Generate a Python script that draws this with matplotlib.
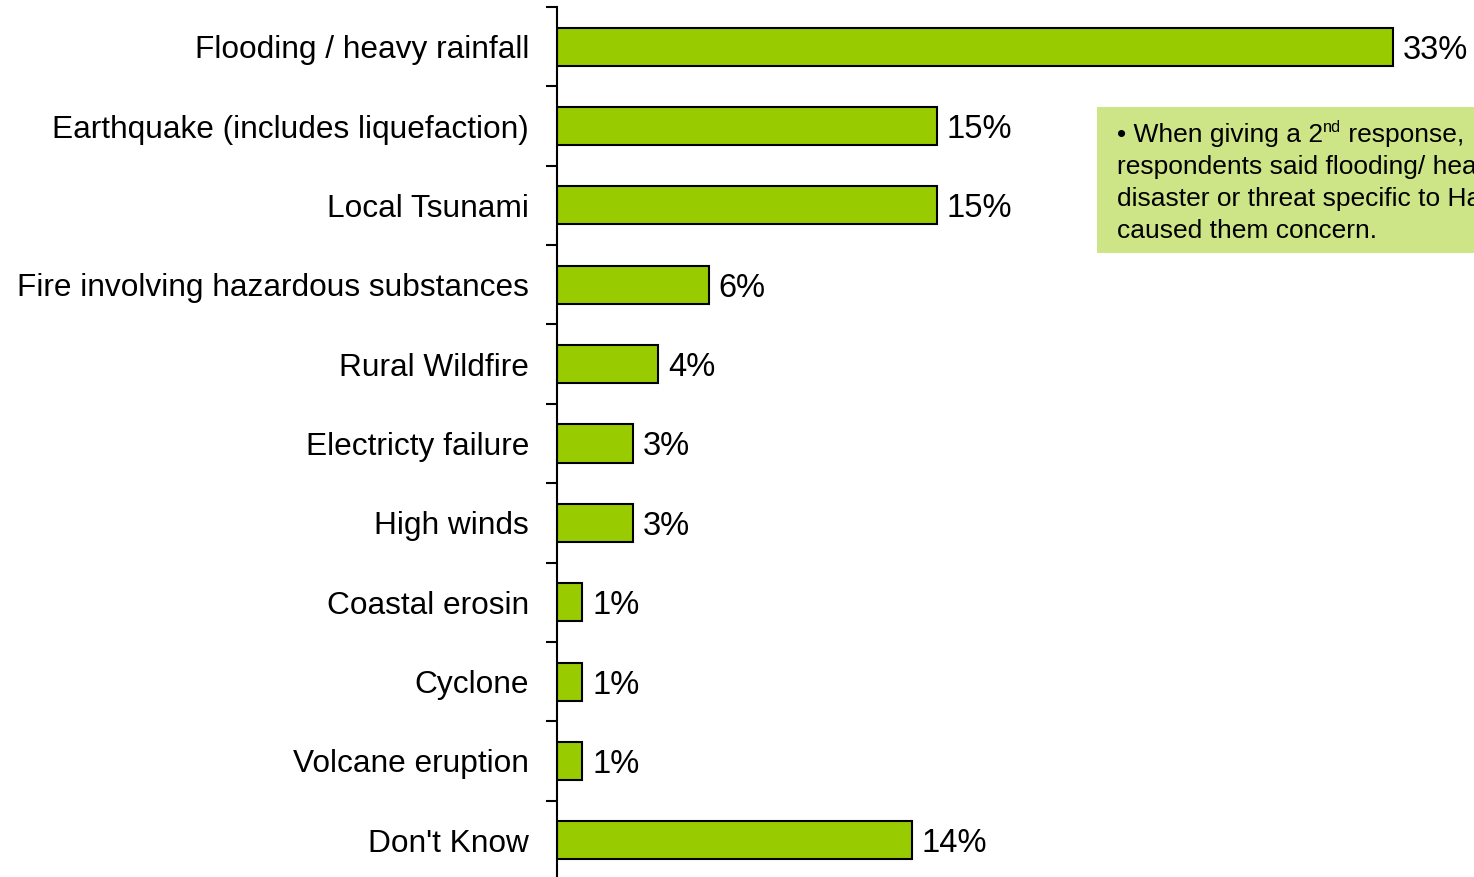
import matplotlib
matplotlib.use("Agg")
import matplotlib.pyplot as plt
from matplotlib.patches import Rectangle
import numpy as np

categories = ["Flooding / heavy rainfall", "Earthquake (includes liquefaction)", "Local Tsunami",
              "Fire involving hazardous substances", "Rural Wildfire", "Electricty failure",
              "High winds", "Coastal erosin", "Cyclone", "Volcane eruption", "Don't Know"]
values = [33, 15, 15, 6, 4, 3, 3, 1, 1, 1, 14]
value_labels = ["33%", "15%", "15%", "6%", "4%", "3%", "3%", "1%", "1%", "1%", "14%"]

note_lines = ["respondents said flooding/ heavy rainfall was the",
              "disaster or threat specific to Hawke's Bay that",
              "caused them concern."]

plt.rcParams['font.family'] = ['Liberation Sans', 'DejaVu Sans']

W, H = 1474, 877
fig = plt.figure(figsize=(W / 100, H / 100), dpi=100)
ax_left, ax_top, ax_bot = 557, 7, 880
ax = fig.add_axes([ax_left / W, (H - ax_bot) / H, (W - ax_left) / W, (ax_bot - ax_top) / H])

n = len(categories)
y = np.arange(n)
ax.barh(y, values, height=0.48, color="#99CC00", edgecolor="black", linewidth=1.5)
px_per_unit = 25.33
ax.set_xlim(0, (W - ax_left) / px_per_unit)
ax.set_ylim(n - 0.5, -0.5)

for yi, v, lab in zip(y, values, value_labels):
    ax.annotate(lab, (v, yi), xytext=(7, 0), textcoords="offset points",
                va="center_baseline", ha="left", fontsize=23.5)

ax.set_yticks(y)
ax.set_yticklabels(categories, fontsize=22.8)
ax.tick_params(axis="y", which="major", length=0, pad=20)
ax.set_yticks(np.arange(-0.5, n, 1), minor=True)
ax.tick_params(axis="y", which="minor", length=8, width=1.5, direction="out")
ax.set_xticks([])
for s in ["top", "right", "bottom"]:
    ax.spines[s].set_visible(False)
ax.spines["left"].set_linewidth(1.5)

# note box
bx0, by0, by1 = 1097, 107, 253
fig.patches.append(Rectangle((bx0 / W, 1 - by1 / H), (W - bx0 + 20) / W, (by1 - by0) / H,
                             transform=fig.transFigure, facecolor="#CDE487", edgecolor="none",
                             zorder=0))
fs = 19
x0 = 1117 / W
base = [142, 174, 206, 238]
fig.canvas.draw()
r = fig.canvas.get_renderer()
t1 = fig.text(x0, 1 - base[0] / H, "\u2022 When giving a 2", fontsize=fs, va="baseline", ha="left")
bb = t1.get_window_extent(r)
t2 = fig.text(bb.x1 / W, 1 - (base[0] - 10) / H, "nd", fontsize=fs * 0.62, va="baseline", ha="left")
bb2 = t2.get_window_extent(r)
fig.text(bb2.x1 / W, 1 - base[0] / H, " response,", fontsize=fs, va="baseline", ha="left")
for line, b in zip(note_lines, base[1:]):
    fig.text(x0, 1 - b / H, line, fontsize=fs, va="baseline", ha="left")

fig.savefig("out.png", dpi=100)
